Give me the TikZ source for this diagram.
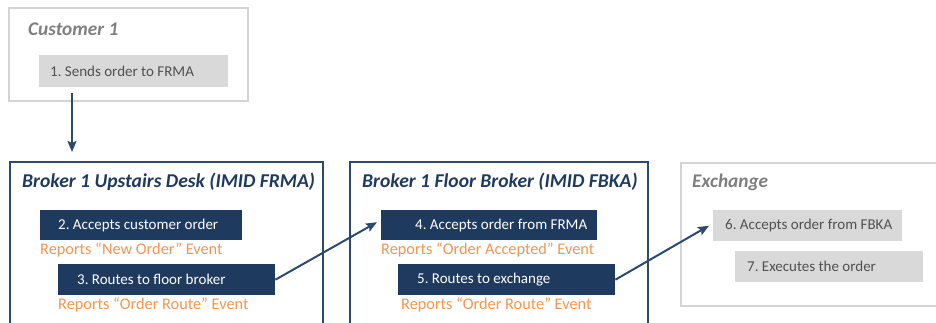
\documentclass[tikz,border=0pt]{standalone}
\usepackage{fontspec}
\setmainfont{Carlito}
\frenchspacing
\usetikzlibrary{arrows.meta}
\definecolor{navy}{HTML}{1F3A5F}
\definecolor{navyline}{HTML}{2B4A6E}
\definecolor{orng}{HTML}{F39552}
\definecolor{lgray}{HTML}{D9D9D9}
\definecolor{lborder}{HTML}{D4D4D4}
\definecolor{gtitle}{HTML}{7F7F7F}
\definecolor{gtext}{HTML}{505050}
\tikzset{
  frameblue/.style={draw=navyline, line width=2pt},
  framegray/.style={draw=lborder, line width=2pt},
  navybox/.style={fill=navy, anchor=north west, inner sep=0pt},
  graybox/.style={fill=lgray, anchor=north west, inner sep=0pt},
  navytext/.style={anchor=west, text=white, inner sep=0pt, font=\fontsize{15}{18}\selectfont},
  graytext/.style={anchor=west, text=gtext, inner sep=0pt, font=\fontsize{15}{18}\selectfont},
  titleblue/.style={anchor=west, text=navy, font=\fontsize{19.6}{22}\selectfont\bfseries\itshape, inner sep=0pt},
  titlegray/.style={anchor=west, text=gtitle, font=\fontsize{19.3}{22}\selectfont\bfseries\itshape, inner sep=0pt},
  report/.style={anchor=west, text=orng, font=\fontsize{16.3}{18}\selectfont, inner sep=0pt},
  arr/.style={draw=navyline, line width=2pt, -{Stealth[length=11pt,width=9pt,inset=2pt]}}
}
\begin{document}
\begin{tikzpicture}[x=1pt,y=-1pt]
\useasboundingbox (0,0) rectangle (936,323);
% frames
\draw[framegray] (9,8) rectangle (248,101);
\draw[frameblue] (10,162) rectangle (323,340);
\draw[frameblue] (350,162) rectangle (648,340);
\draw[framegray] (681,163) rectangle (945,306);
% titles
\node[titlegray] (tc) at (28,29) {Customer 1};
\node[titleblue] (tu) at (22,182) {Broker 1 Upstairs Desk (IMID FRMA)};
\node[titleblue] (tf) at (362,182) {Broker 1 Floor Broker (IMID FBKA)};
\node[titlegray] (te) at (692,182) {Exchange};
% boxes
\node[graybox, minimum width=189pt, minimum height=32pt] (b1) at (39,55) {};
\node[navybox, minimum width=202pt, minimum height=30pt] (b2) at (40,210) {};
\node[navybox, minimum width=217pt, minimum height=31pt] (b3) at (58,264) {};
\node[navybox, minimum width=216pt, minimum height=30pt] (b4) at (381,210) {};
\node[navybox, minimum width=217pt, minimum height=31pt] (b5) at (398,264) {};
\node[graybox, minimum width=189pt, minimum height=31pt] (b6) at (713,210) {};
\node[graybox, minimum width=188pt, minimum height=31pt] (b7) at (735,251) {};
% box texts
\node[graytext] (t1) at ([xshift=11pt]b1.west) {1. Sends order to FRMA};
\node[navytext] (t2) at ([xshift=18pt]b2.west) {2. Accepts customer order};
\node[navytext] (t3) at ([xshift=19pt]b3.west) {3. Routes to floor broker};
\node[navytext] (t4) at ([xshift=34pt]b4.west) {4. Accepts order from FRMA};
\node[navytext] (t5) at ([xshift=19pt]b5.west) {5. Routes to exchange};
\node[graytext] (t6) at ([xshift=12pt]b6.west) {6. Accepts order from FBKA};
\node[graytext] (t7) at ([xshift=12pt]b7.west) {7. Executes the order};
% reports
\node[report] (r2) at (40,250) {Reports “New Order” Event};
\node[report] (r3) at (58,305) {Reports “Order Route” Event};
\node[report] (r4) at (381,250) {Reports “Order Accepted” Event};
\node[report] (r5) at (401,305) {Reports “Order Route” Event};
% arrows
\coordinate (a1end) at (72,152);
\draw[arr, shorten <=6pt] (b1.south west -| a1end) -- (a1end);
\draw[arr] (b3.east) -- ([shift={(-4,-3)}]b4.west);
\draw[arr] (b5.east) -- ([shift={(-4,0)}]b6.west);
\end{tikzpicture}
\end{document}
